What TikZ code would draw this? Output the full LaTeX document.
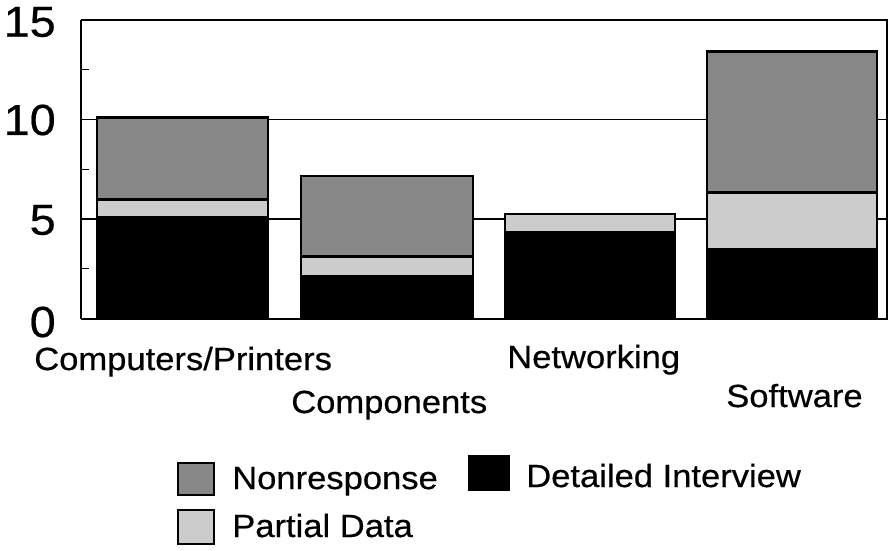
\documentclass[tikz,border=0pt]{standalone}
\usepackage{fontspec}
\setmainfont{Liberation Sans}[FakeStretch=1.08,FakeBold=0.5]
\begin{document}
\begin{tikzpicture}[x=0.75pt,y=-0.75pt,
  nrfill/.style={fill=black!47},
  pdfill/.style={fill=black!20},
  difill/.style={fill=black},
  seg/.style={draw=black,line width=2.1pt},
  gridline/.style={line width=0.8pt},
  frameline/.style={line width=1.6pt},
  catlabel/.style={anchor=base west,inner sep=0pt,font=\fontsize{24}{28}\selectfont},
  ylab/.style={anchor=east,inner sep=0pt,font=\fontsize{32.5}{38}\selectfont},
  legbox/.style={draw=black,line width=1.8pt}]
\useasboundingbox (0,0) rectangle (888,550);
% grid lines
\draw[gridline] (81,219) -- (888,219);
\draw[gridline] (81,119.5) -- (888,119.5);
% ticks
\foreach \yy in {268.8,169.2,69.8} \draw[line width=0.8pt] (81,\yy) -- (89,\yy);
% bar 1 Computers/Printers
\draw[seg,difill] (97,318.5) rectangle (268,217);
\draw[seg,pdfill] (97,217) rectangle (268,199.1);
\draw[seg,nrfill] (97,199.1) rectangle (268,117.5);
% bar 2 Components
\draw[seg,difill] (301,318.5) rectangle (473,276.7);
\draw[seg,pdfill] (301,276.7) rectangle (473,256.8);
\draw[seg,nrfill] (301,256.8) rectangle (473,176);
% bar 3 Networking
\draw[seg,difill] (505,318.5) rectangle (675,232);
\draw[seg,pdfill] (505,232) rectangle (675,214);
% bar 4 Software
\draw[seg,difill] (707,318.5) rectangle (877,249.8);
\draw[seg,pdfill] (707,249.8) rectangle (877,192.1);
\draw[seg,nrfill] (707,192.1) rectangle (877,51.8);
% frame
\draw[frameline] (81,20) -- (888,20);
\draw[frameline] (81,20) -- (81,319);
\draw[frameline] (81,319) -- (888,319);
\draw[frameline] (887,20) -- (887,319);
% y labels
\node[ylab] (y15) at (56,22) {15};
\node[ylab] (y10) at (56,120) {10};
\node[ylab] (y5) at (56,220) {5};
\node[ylab] (y0) at (56,322) {0};
% category labels
\node[catlabel] (c1) at (34,370) {Computers/Printers};
\node[catlabel] (c2) at (291,413) {Components};
\node[catlabel] (c3) at (507,368) {Networking};
\node[catlabel] (c4) at (726,407) {Software};
% legend
\draw[legbox,nrfill] (178,463) rectangle (214,495);
\draw[legbox,pdfill] (178,510) rectangle (214,544);
\draw[legbox,difill] (469,456) rectangle (509,490);
\node[catlabel] (l1) at (232,489) {Nonresponse};
\node[catlabel] (l2) at (526,487) {Detailed Interview};
\node[catlabel] (l3) at (232,537) {Partial Data};
\end{tikzpicture}
\end{document}
